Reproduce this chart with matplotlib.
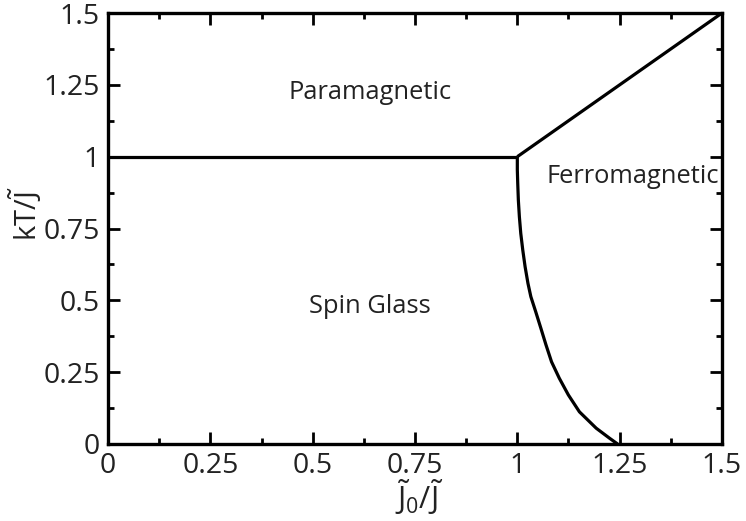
import matplotlib
matplotlib.use("Agg")
import matplotlib.pyplot as plt
from matplotlib.ticker import MultipleLocator, FixedFormatter, FixedLocator

plt.rcParams['font.family'] = ['Open Sans', 'DejaVu Sans']
plt.rcParams['mathtext.fontset'] = 'custom'
plt.rcParams['mathtext.rm'] = 'Open Sans'
plt.rcParams['mathtext.it'] = 'Open Sans'
plt.rcParams['mathtext.default'] = 'regular'

# Data
para_sg_x = [0.0, 1.0]
para_sg_y = [1.0, 1.0]
para_ferro_x = [1.0, 1.5]
para_ferro_y = [1.0, 1.5]
sg_ferro_x = [1.0, 1.0, 1.001, 1.0025, 1.005, 1.0084, 1.0133, 1.019, 1.026, 1.033,
              1.045, 1.0575, 1.070, 1.0836, 1.1025, 1.1246, 1.1517, 1.1927, 1.2254, 1.245]
sg_ferro_y = [1.0, 0.954, 0.907, 0.849, 0.791, 0.733, 0.675, 0.617, 0.559, 0.513,
              0.460, 0.403, 0.345, 0.286, 0.229, 0.171, 0.112, 0.055, 0.020, 0.0]
tick_vals = [0, 0.25, 0.5, 0.75, 1, 1.25, 1.5]
tick_labels = ['0', '0.25', '0.5', '0.75', '1', '1.25', '1.5']
region_labels = ['Paramagnetic', 'Spin Glass', 'Ferromagnetic']
region_x = [0.64, 0.64, 1.283]
region_y = [1.222, 0.477, 0.93]

fig = plt.figure(figsize=(7.46, 5.21), dpi=100)
ax = fig.add_axes([0.1448, 0.1478, 0.9678 - 0.1448, 0.975 - 0.1478])

lw = 2.3
for xs, ys in ((para_sg_x, para_sg_y), (para_ferro_x, para_ferro_y), (sg_ferro_x, sg_ferro_y)):
    ax.plot(xs, ys, color='black', lw=lw, solid_capstyle='butt', solid_joinstyle='round')

for t, x, y in zip(region_labels, region_x, region_y):
    ax.text(x, y, t, ha='center', va='center', fontsize=18.4, color='#222222')

ax.set_xlim(0, 1.5)
ax.set_ylim(0, 1.5)
for axis in (ax.xaxis, ax.yaxis):
    axis.set_major_locator(FixedLocator(tick_vals))
    axis.set_major_formatter(FixedFormatter(tick_labels))
    axis.set_minor_locator(MultipleLocator(0.125))

ax.tick_params(which='both', direction='in', top=True, right=True, width=2.0, colors='black',
               labelsize=20.5, labelcolor='#222222')
ax.tick_params(which='major', length=8.5, pad=6)
ax.tick_params(which='minor', length=4)
for s in ax.spines.values():
    s.set_linewidth(2.4)

ax.set_xlabel(r'$\tilde{J}_0/\tilde{J}$', fontsize=22, color='#222222')
ax.set_ylabel(r'$kT/\tilde{J}$', fontsize=21, color='#222222')
ax.xaxis.set_label_coords((419 - 108) / 614, -(497 - 444) / 431)
ax.yaxis.set_label_coords(-(108 - 25) / 614, (444 - 214) / 431)
ax.xaxis.label.set_va('center')
ax.yaxis.label.set_va('center')

fig.savefig('out.png', dpi=100)
